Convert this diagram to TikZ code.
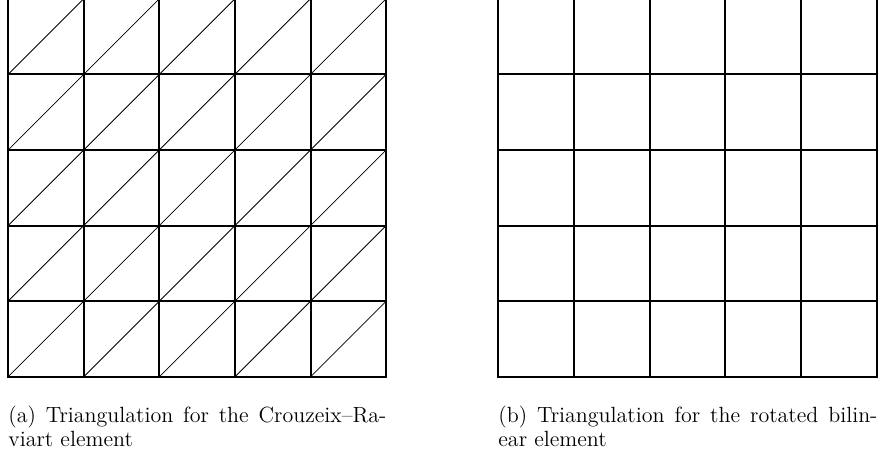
\documentclass[tikz,border=0pt]{standalone}
\begin{document}
\begin{tikzpicture}[x=0.5pt,y=-0.5pt,
  gridline/.style={line width=1pt,line cap=rect},
  diagline/.style={line width=0.4pt},
  captext/.style={anchor=base west,inner sep=0pt,font=\fontsize{11}{12}\selectfont}]
\useasboundingbox (0,0) rectangle (878,457);
% left grid
\foreach \i in {0,...,4}{
  \foreach \j in {0,...,4}{
    \draw[diagline] ({8.2+75.6*\i},{376.7-75.6*\j}) -- ({8.2+75.6*(\i+1)},{376.7-75.6*(\j+1)});
  }
}
\foreach \i in {0,...,5}{
  \draw[gridline] ({8.2+75.6*\i},376.7) -- ({8.2+75.6*\i},-1.3);
  \draw[gridline] (8.2,{376.7-75.6*\i}) -- (386.2,{376.7-75.6*\i});
}
% right grid
\foreach \i in {0,...,5}{
  \draw[gridline] ({498.3+75.68*\i},376.7) -- ({498.3+75.68*\i},-1.3);
  \draw[gridline] (498.3,{376.7-75.6*\i}) -- (876.7,{376.7-75.6*\i});
}
\node[captext] (ca1) at (8,422.5) {\makebox[189pt][s]{(a) Triangulation for the Crouzeix--Ra-}};
\node[captext] (ca2) at (8,446.5) {viart element};
\node[captext] (cb1) at (498,422.5) {\makebox[189.5pt][s]{(b) Triangulation for the rotated bilin-}};
\node[captext] (cb2) at (498,446.5) {ear element};
\end{tikzpicture}
\end{document}
